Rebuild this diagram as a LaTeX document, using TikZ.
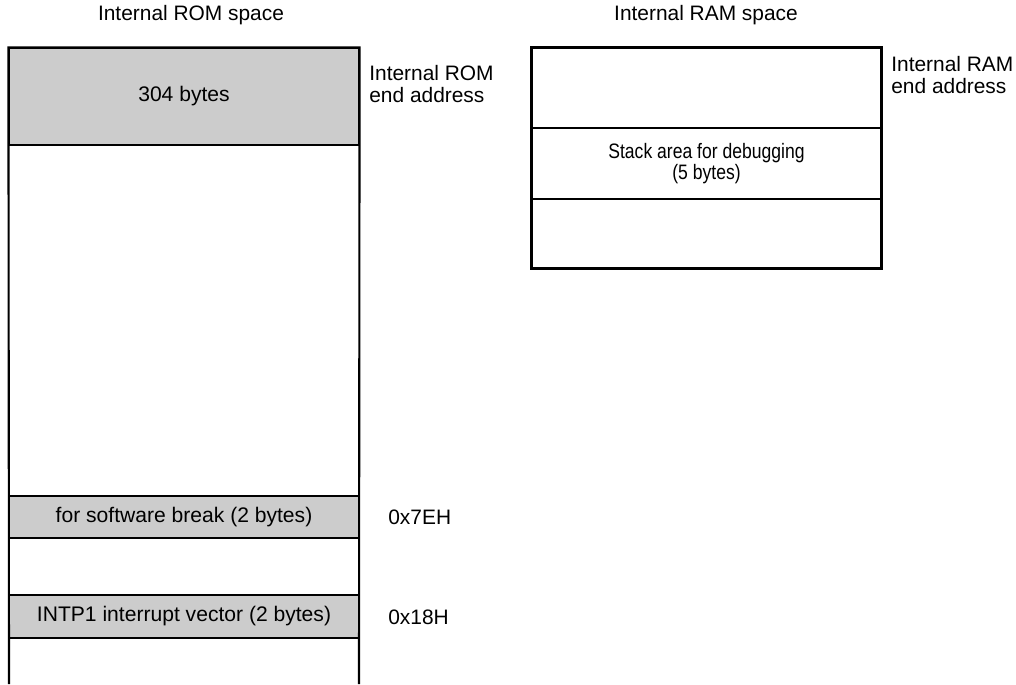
\documentclass[tikz,border=0pt]{standalone}
\usepackage{fontspec}
\setmainfont{Liberation Sans}
\newfontfamily\narrowsans[FakeStretch=0.84]{Liberation Sans}
\usepackage{tikz}
\tikzset{
  mem cell/.style={
    rectangle, draw=black, line width=0.7pt, inner sep=0pt,
    font=\fontsize{12}{14}\selectfont
  },
  mem used/.style={
    mem cell, fill=black!20
  },
  mem border/.style={
    draw=black, line width=1.2pt
  },
  addr label/.style={
    inner sep=0pt, anchor=west, align=left,
    font=\fontsize{11.9}{12.6}\selectfont
  },
  space title/.style={
    inner sep=0pt, font=\fontsize{11.9}{14}\selectfont
  }
}

\begin{document}
\begin{tikzpicture}[x=0.02cm,y=-0.02cm]
\useasboundingbox (0,0) rectangle (1016,684);

% ------------------------------------------------
% left: internal ROM space
% ------------------------------------------------
\node[space title] (romTitle) at (191,15) {Internal ROM space};

\node[mem used, minimum width=7cm, minimum height=1.94cm] (romTop)  at (184,96.5) {304 bytes};
\node[mem used, minimum width=7cm, minimum height=0.84cm] (romBrk)  at (184,517)  {for software break (2 bytes)};
\node[mem used, minimum width=7cm, minimum height=0.86cm] (romIntp) at (184,616.5) {INTP1 interrupt vector (2 bytes)};

\coordinate (romBL) at (9,684);
\coordinate (romBR) at (359,684);
\draw[mem border] (romBL) -- (romTop.north west) -- (romTop.north east) -- (romBR);

\node[addr label] (romEnd)  at (369,84)  {Internal ROM\\end address};
\node[addr label] (romBrkA) at (388,517) {0x7EH};
\node[addr label] (romIntA) at (388,617) {0x18H};

% ------------------------------------------------
% right: internal RAM space
% ------------------------------------------------
\node[space title] (ramTitle) at (706,15) {Internal RAM space};

\node[mem cell, minimum width=6.98cm, minimum height=1.6cm]  (ramTop)   at (706.5,88)    {};
\node[mem cell, minimum width=6.98cm, minimum height=1.42cm, align=center,
      font=\narrowsans\fontsize{11.9}{11.6}\selectfont] (ramStack) at (706.5,163.5)
      {Stack area for debugging\\(5 bytes)};
\node[mem cell, minimum width=6.98cm, minimum height=1.38cm] (ramBot)   at (706.5,233.5) {};

\draw[mem border] (ramTop.north west) rectangle (ramBot.south east);

\node[addr label] (ramEnd) at (891,75) {Internal RAM\\end address};
\end{tikzpicture}
\end{document}
